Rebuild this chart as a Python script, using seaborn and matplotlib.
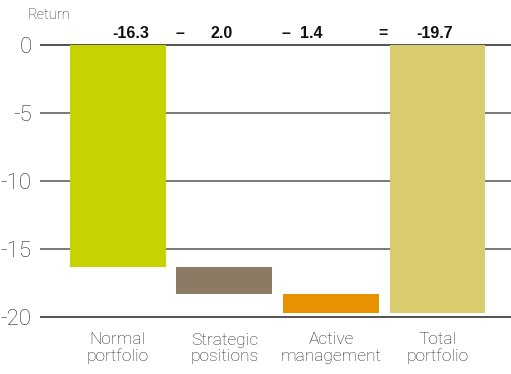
import matplotlib
matplotlib.use("Agg")
import matplotlib.pyplot as plt
import seaborn as sns
import pandas as pd
import numpy as np

categories = ["Normal\nportfolio", "Strategic\npositions", "Active\nmanagement", "Total\nportfolio"]
values = [-16.3, -2.0, -1.4, -19.7]
bottoms = [0.0, -16.3, -18.3, 0.0]
value_labels = ["-16.3", "2.0", "1.4", "-19.7"]
operators = ["\u2013", "\u2013", "="]
colors = ["#c5d400", "#8b7b65", "#e89200", "#d9cc6e"]
yticks = [0, -5, -10, -15, -20]

sns.set_theme(style="white")
plt.rcParams['font.family'] = ['Roboto', 'DejaVu Sans']
plt.rcParams['font.weight'] = 'light'

fig = plt.figure(figsize=(5.11, 3.74), dpi=100)
ax = fig.add_axes([40/511, 54/374, 471/511, 276/374])

df = pd.DataFrame({"cat": categories, "val": values})
sns.barplot(data=df, x="cat", y="val", ax=ax, width=0.9, bottom=bottoms,
            color=colors[0], saturation=1, zorder=3)
for p, c in zip(ax.patches, colors):
    p.set_facecolor(c)
    p.set_edgecolor("none")

for t in yticks:
    col = "#222222" if t in (0, -20) else "#555555"
    ax.axhline(t, color=col, lw=1.1, zorder=1)

ax.set_ylim(-20.2, 0.1)
ax.set_xlim(-0.73, 3.69)
ax.set_yticks(yticks)
ax.set_yticklabels([str(t) for t in yticks], fontsize=16, color="#2a2a2a", fontweight="light")
ax.tick_params(axis="y", length=0, pad=6)
ax.tick_params(axis="x", length=0, pad=9)
ax.set_xticks(range(len(categories)))
ax.set_xticklabels(categories, fontsize=12.5, color="#2a2a2a", linespacing=1.1, fontweight="light")
ax.set_xlabel("")
ax.set_ylabel("")
for s in ax.spines.values():
    s.set_visible(False)

val_x = [0.12, 0.97, 1.82, 2.97]
for x, lab in zip(val_x, value_labels):
    ax.text(x, 0.85, lab, ha="center", va="center", fontsize=11.5, fontweight="bold",
            family="Liberation Sans", color="#111111", clip_on=False)
op_x = [0.58, 1.58, 2.49]
for x, op in zip(op_x, operators):
    ax.text(x, 0.85, op, ha="center", va="center", fontsize=11.5, fontweight="bold",
            family="Liberation Sans", color="#111111", clip_on=False)

fig.text(49/511, 1 - 15/374, "Return", ha="center", va="center", fontsize=10.5,
         color="#2a2a2a", fontweight="light")

fig.savefig("out.png", dpi=100)
